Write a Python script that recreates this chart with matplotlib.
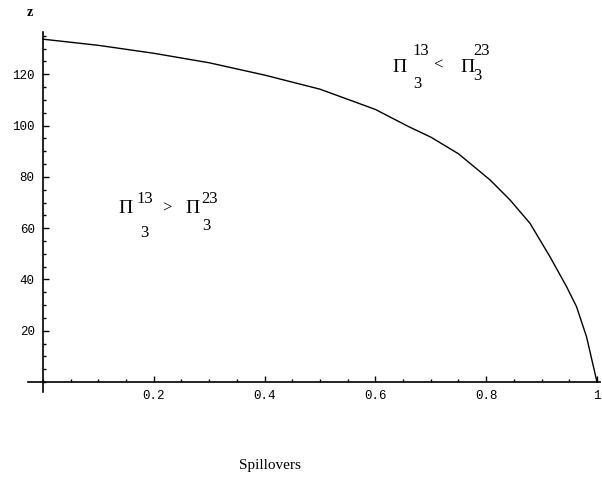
import numpy as np
import matplotlib.pyplot as plt
from matplotlib.ticker import MultipleLocator

# boundary curve
spill = [0.0, 0.1, 0.2, 0.3, 0.4, 0.5, 0.6, 0.66, 0.7, 0.75, 0.807, 0.843, 0.879, 0.915, 0.945, 0.963, 0.981, 1.0]
z_val = [133.7, 131.3, 128.2, 124.5, 119.7, 114.2, 106.3, 99.6, 95.5, 89.0, 78.8, 71.0, 61.9, 48.9, 37.2, 29.4, 17.7, 0.0]

xticks = [0.2, 0.4, 0.6, 0.8, 1]
xlabels = ["0.2", "0.4", "0.6", "0.8", "1"]
yticks = [20, 40, 60, 80, 100, 120]

fig = plt.figure(figsize=(6.02, 4.8), dpi=100)
ax = fig.add_axes([28/602, 88/480, 572/602, 360/480])

ax.plot(spill, z_val, color='black', lw=1.0)

ax.set_xlim(-0.027, 1.0054)
ax.set_ylim(-3.9, 136.5)

# mathematica style axes crossing at origin
for s in ['top', 'right']:
    ax.spines[s].set_visible(False)
ax.spines['left'].set_position(('data', 0))
ax.spines['bottom'].set_position(('data', 0))
ax.spines['left'].set_linewidth(1.2)
ax.spines['bottom'].set_linewidth(1.2)

ax.set_xticks(xticks)
ax.set_xticklabels(xlabels)
ax.set_yticks(yticks)
ax.xaxis.set_minor_locator(MultipleLocator(0.05))
ax.yaxis.set_minor_locator(MultipleLocator(5))
ax.tick_params(which='major', direction='in', length=4, width=1, labelsize=9)
ax.tick_params(which='minor', direction='in', length=2.5, width=1)
ax.tick_params(axis='x', pad=6)
ax.tick_params(axis='y', pad=6)
for lab in ax.get_xticklabels() + ax.get_yticklabels():
    lab.set_family('Liberation Mono')


def stacked(x, y, pieces):
    # pieces: (text, dx px, dy px up, size)
    for t, dx, dy, sz in pieces:
        ax.annotate(t, (x, y), xytext=(dx*0.72, dy*0.72), textcoords='offset points',
                    ha='left', va='baseline', fontsize=sz, family='Liberation Serif')


stacked(0.1354, 65.9, [("\u03a0", 0, 0, 14), ("13", 19, 10, 12), ("3", 22, -24, 12),
                       (">", 44, 0, 12), ("\u03a0", 67, 0, 14), ("23", 83, 10, 12), ("3", 84, -17, 12)])
stacked(0.63, 120.9, [("\u03a0", 0, 0, 14), ("13", 20, 17, 12), ("3", 21, -16, 12),
                      ("<", 41, 2, 12), ("\u03a0", 68, 0, 14), ("23", 81, 17, 12), ("3", 81, -8, 12)])

fig.text(0.05, 0.973, 'z', fontsize=10, family='Liberation Serif', ha='center', va='center', weight='bold')
fig.text(270/602, 0.031, 'Spillovers', fontsize=11, family='Liberation Serif', ha='center', va='center')

plt.savefig("out.png", dpi=100)
